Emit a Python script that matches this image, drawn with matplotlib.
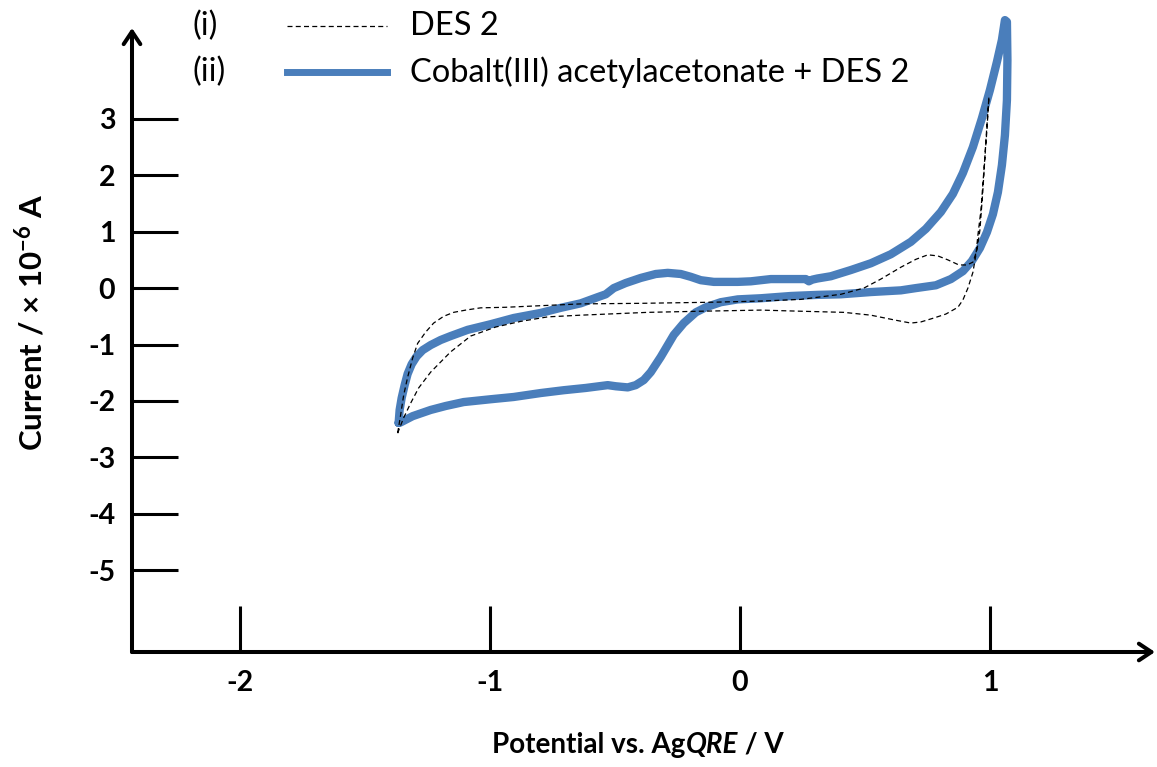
import matplotlib
matplotlib.use("Agg")
import matplotlib.pyplot as plt
from matplotlib.lines import Line2D
from matplotlib.offsetbox import TextArea, HPacker, AnchoredOffsetbox

plt.rcParams['font.family'] = ['Lato', 'DejaVu Sans']
plt.rcParams['axes.unicode_minus'] = False
plt.rcParams['mathtext.fontset'] = 'custom'
plt.rcParams['mathtext.rm'] = 'Lato'
plt.rcParams['mathtext.bf'] = 'Lato:bold'
plt.rcParams['mathtext.it'] = 'Lato:italic'

# ---- data (potential / V, current / 1e-6 A) ----
# (ii) Cobalt(III) acetylacetonate + DES 2 : forward (upper) branch
co_fwd_E = [-1.364, -1.360, -1.352, -1.340, -1.328, -1.312, -1.292, -1.268, -1.236, -1.196,
            -1.156, -1.088, -0.996, -0.904, -0.796, -0.716, -0.636, -0.568, -0.536, -0.504,
            -0.456, -0.396, -0.336, -0.288, -0.236, -0.196, -0.156, -0.104, -0.056, -0.008,
            0.044, 0.124, 0.204, 0.264, 0.276, 0.290, 0.310, 0.364, 0.444, 0.524,
            0.604, 0.684, 0.744, 0.804, 0.852, 0.892, 0.932, 0.968, 1.000, 1.028,
            1.048, 1.060]
co_fwd_I = [-2.39, -2.16, -1.95, -1.72, -1.52, -1.35, -1.21, -1.10, -1.01, -0.92,
            -0.85, -0.74, -0.64, -0.53, -0.44, -0.35, -0.27, -0.16, -0.11, 0.00,
            0.09, 0.18, 0.25, 0.27, 0.25, 0.20, 0.14, 0.11, 0.11, 0.11,
            0.12, 0.16, 0.16, 0.16, 0.12, 0.15, 0.17, 0.21, 0.32, 0.44,
            0.60, 0.82, 1.05, 1.35, 1.67, 2.04, 2.50, 3.01, 3.51, 4.01,
            4.40, 4.75]
# reverse (lower) branch
co_rev_E = [1.068, 1.070, 1.068, 1.060, 1.048, 1.032, 1.012, 0.988, 0.960, 0.928,
            0.892, 0.844, 0.784, 0.704, 0.644, 0.524, 0.404, 0.312, 0.204, 0.084,
            -0.008, -0.076, -0.136, -0.176, -0.224, -0.264, -0.288, -0.316, -0.356, -0.384,
            -0.416, -0.448, -0.496, -0.528, -0.616, -0.704, -0.796, -0.904, -0.996, -1.104,
            -1.176, -1.236, -1.308, -1.356, -1.364]
co_rev_I = [4.72, 4.04, 3.33, 2.71, 2.18, 1.70, 1.31, 0.99, 0.71, 0.48,
            0.30, 0.16, 0.05, 0.00, -0.04, -0.07, -0.11, -0.12, -0.14, -0.18,
            -0.20, -0.25, -0.34, -0.43, -0.62, -0.83, -1.01, -1.22, -1.49, -1.63,
            -1.72, -1.76, -1.74, -1.72, -1.77, -1.81, -1.86, -1.93, -1.97, -2.02,
            -2.09, -2.16, -2.27, -2.38, -2.39]

# (i) DES 2 : forward branch
des_fwd_E = [-1.368, -1.356, -1.344, -1.328, -1.308, -1.288, -1.256, -1.224, -1.184, -1.144,
             -1.096, -1.036, -0.936, -0.836, -0.636, -0.396, -0.104, 0.084, 0.244, 0.404,
             0.496, 0.564, 0.644, 0.704, 0.752, 0.792, 0.832, 0.876, 0.908, 0.932,
             0.948, 0.96, 0.972, 0.984, 0.996]
des_fwd_I = [-2.57, -2.25, -1.90, -1.58, -1.24, -0.98, -0.78, -0.62, -0.50, -0.43,
             -0.39, -0.35, -0.34, -0.32, -0.28, -0.27, -0.25, -0.23, -0.20, -0.11,
             0.00, 0.16, 0.37, 0.51, 0.59, 0.57, 0.50, 0.41, 0.41, 0.46,
             0.67, 1.03, 1.74, 2.62, 3.39]
# reverse branch
des_rev_E = [0.996, 0.988, 0.976, 0.964, 0.952, 0.944, 0.932, 0.912, 0.892, 0.872,
             0.824, 0.776, 0.724, 0.684, 0.624, 0.524, 0.416, 0.244, 0.084, -0.156,
             -0.368, -0.636, -0.768, -0.876, -0.976, -1.076, -1.156, -1.236, -1.284, -1.316,
             -1.344, -1.368]
des_rev_I = [3.39, 2.80, 2.09, 1.38, 0.94, 0.59, 0.28, 0.00, -0.21, -0.34,
             -0.46, -0.53, -0.60, -0.62, -0.57, -0.48, -0.43, -0.41, -0.39, -0.41,
             -0.43, -0.48, -0.51, -0.59, -0.69, -0.85, -1.13, -1.49, -1.77, -2.04,
             -2.30, -2.57]

x_ticks = [-2, -1, 0, 1]
y_ticks = [-5, -4, -3, -2, -1, 0, 1, 2, 3]
legend_tags = ['(i)', '(ii)']
legend_labels = ['DES 2', 'Cobalt(III) acetylacetonate + DES 2']

BLUE = '#4a7ebb'
W, H = 1157, 767

fig = plt.figure(figsize=(W / 100, H / 100), dpi=100)
ax = fig.add_axes([132 / W, 1 - 652 / H, (1155 - 132) / W, (652 - 28) / H])
ax.set_xlim(-2.43, 1.66)
ax.set_ylim(-6.45, 4.61)

ax.plot(des_fwd_E + des_rev_E, des_fwd_I + des_rev_I, color='black', lw=0.9,
        linestyle=(0, (4, 2.6)), clip_on=False, zorder=3)
ax.plot(co_fwd_E + co_rev_E, co_fwd_I + co_rev_I, color=BLUE, lw=6,
        solid_joinstyle='round', solid_capstyle='round', clip_on=False, zorder=2)

for s in ax.spines.values():
    s.set_visible(False)

ax.set_xticks(x_ticks)
ax.set_yticks(y_ticks)
ax.set_xticklabels([str(v) for v in x_ticks])
ax.set_yticklabels([str(v) for v in y_ticks])
ax.tick_params(axis='both', direction='in', length=33, width=2.2, color='black',
               labelsize=20.5, top=False, right=False)
ax.tick_params(axis='x', pad=13)
ax.tick_params(axis='y', pad=12)
for lab in ax.get_xticklabels() + ax.get_yticklabels():
    lab.set_fontweight('bold')

arrow_kw = dict(arrowstyle='->,head_length=0.45,head_width=0.3', lw=2.9, color='black',
                shrinkA=0, shrinkB=0, mutation_scale=20)
ax.annotate('', xy=(0, 1), xytext=(0, 0), xycoords='axes fraction', arrowprops=arrow_kw)
ax.annotate('', xy=(1, 0), xytext=(0, 0), xycoords='axes fraction', arrowprops=arrow_kw)

# axis labels
fig.text(30 / W, 1 - 322 / H, r'Current / × 10$^{\mathbf{-6}}$ A', rotation=90,
         ha='center', va='center', fontsize=22.5, fontweight='bold')
parts = [TextArea('Potential vs. Ag', textprops=dict(fontsize=20, fontweight='bold')),
         TextArea('QRE', textprops=dict(fontsize=20, fontweight='bold', style='italic')),
         TextArea(' / V', textprops=dict(fontsize=20, fontweight='bold'))]
box = HPacker(children=parts, align='baseline', pad=0, sep=0)
anch = AnchoredOffsetbox(loc='center', child=box, pad=0, borderpad=0, frameon=False,
                         bbox_to_anchor=(638 / W, 1 - 745 / H), bbox_transform=fig.transFigure)
fig.add_artist(anch)

# legend (manual)
rows_y = [26, 72]
styles = [dict(color='black', lw=0.9, linestyle=(0, (4, 2.6))),
          dict(color=BLUE, lw=5)]
for tag, lab, yy, st in zip(legend_tags, legend_labels, rows_y, styles):
    yf = 1 - yy / H
    fig.text(193 / W, yf, tag, ha='left', va='center', fontsize=23.5)
    fig.add_artist(Line2D([287 / W, 387 / W], [yf, yf], transform=fig.transFigure, **st))
    fig.text(410 / W, yf, lab, ha='left', va='center', fontsize=23.5)

fig.savefig('out.png', dpi=100)
